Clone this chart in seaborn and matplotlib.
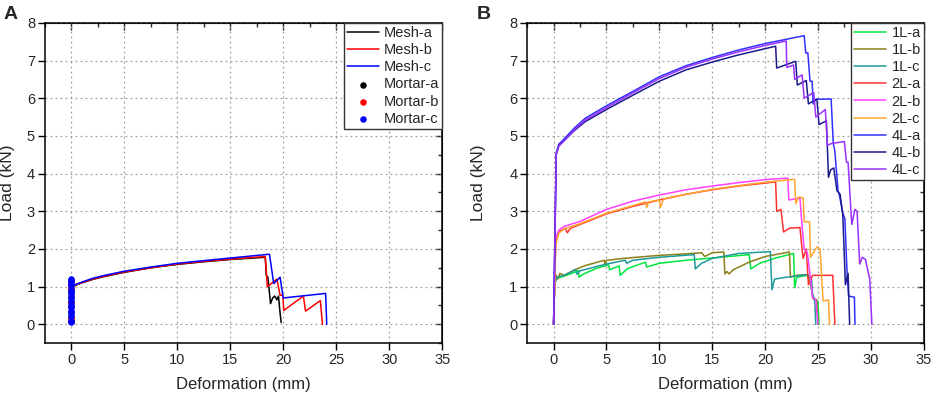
import matplotlib
matplotlib.use("Agg")
import matplotlib.pyplot as plt
from matplotlib.ticker import MultipleLocator
import seaborn as sns

# ---------------- Panel A data ----------------
mesh_a_x = [0.1, 0.15, 0.3, 0.6, 1, 2, 3, 5, 7.5, 10, 12.5, 15, 18.3, 18.4, 18.55, 18.8, 19.0, 19.2, 19.4, 19.55, 19.7, 19.8]
mesh_a_y = [0.9, 0.97, 1.02, 1.06, 1.1, 1.19, 1.26, 1.38, 1.5, 1.59, 1.66, 1.72, 1.78, 1.3, 1.25, 0.55, 0.7, 0.75, 0.65, 0.75, 0.3, 0.05]

mesh_b_x = [0.1, 0.15, 0.3, 0.6, 1, 2, 3, 5, 7.5, 10, 12.5, 15, 18.3, 18.5, 19.4, 19.7, 19.95, 20.05, 21.9, 22.1, 23.5, 23.7]
mesh_b_y = [0.92, 0.98, 1.03, 1.07, 1.11, 1.2, 1.27, 1.39, 1.5, 1.6, 1.67, 1.73, 1.8, 1.0, 1.2, 0.77, 0.78, 0.37, 0.75, 0.35, 0.63, 0.0]

mesh_c_x = [0.1, 0.15, 0.3, 0.6, 1, 2, 3, 5, 7.5, 10, 12.5, 15, 18.7, 19.1, 19.7, 20.0, 24.0, 24.1]
mesh_c_y = [0.93, 0.99, 1.04, 1.08, 1.12, 1.22, 1.29, 1.41, 1.52, 1.62, 1.69, 1.76, 1.86, 1.08, 1.25, 0.7, 0.82, 0.0]

mortar_x_a = [0, 0, 0, 0, 0, 0, 0, 0, 0, 0]
mortar_y_a = [0.08, 0.2, 0.32, 0.45, 0.6, 0.72, 0.85, 0.95, 1.05, 1.15]
mortar_x_b = [0, 0, 0, 0]
mortar_y_b = [0.14, 0.56, 0.97, 1.12]
mortar_x_c = [0] * 17
mortar_y_c = [0.05, 0.08, 0.22, 0.3, 0.36, 0.45, 0.5, 0.63, 0.7, 0.78, 0.85, 0.9, 1.05, 1.08, 1.14, 1.18, 1.21]

# ---------------- Panel B data ----------------
l1a_x = [0, 0.1, 0.3, 1, 2, 2.35, 2.4, 2.8, 4, 5.2, 5.3, 6.2, 6.3, 7, 8.7, 8.8, 10, 12.5, 15, 18.5, 18.65, 19.5, 21, 22.7, 22.8, 23.0, 24.0, 24.3, 24.6, 25.0, 25.1]
l1a_y = [0, 1.1, 1.22, 1.28, 1.38, 1.43, 1.25, 1.33, 1.48, 1.58, 1.45, 1.55, 1.3, 1.48, 1.65, 1.52, 1.62, 1.7, 1.76, 1.85, 1.47, 1.62, 1.76, 1.88, 0.97, 1.25, 1.3, 1.05, 0.65, 0.6, 0]

l1b_x = [0, 0.1, 0.2, 0.4, 0.6, 1, 2, 3, 4.8, 4.85, 5, 7, 10, 12.5, 14, 14.3, 15, 16.1, 16.2, 16.4, 16.6, 17, 18.5, 20, 22.3, 22.4, 23, 24, 24.3, 24.5, 24.9, 25.0]
l1b_y = [0, 1.0, 1.32, 1.2, 1.35, 1.3, 1.45, 1.56, 1.7, 1.6, 1.7, 1.76, 1.83, 1.87, 1.9, 1.8, 1.9, 1.92, 1.34, 1.4, 1.34, 1.45, 1.65, 1.8, 1.92, 1.25, 1.3, 1.32, 1.15, 0.7, 0.65, 0]

l1c_x = [0, 0.1, 0.3, 1, 2.1, 2.2, 2.5, 5, 6.8, 6.9, 7.5, 10, 13.3, 13.4, 14, 15, 17.5, 20.5, 20.65, 20.9, 22, 24, 24.4, 24.5, 24.7, 24.8]
l1c_y = [0, 1.05, 1.25, 1.3, 1.45, 1.33, 1.42, 1.6, 1.7, 1.62, 1.7, 1.78, 1.85, 1.47, 1.62, 1.75, 1.88, 1.93, 0.92, 1.2, 1.25, 1.32, 1.2, 0.8, 0.65, 0]

l2a_x = [0, 0.2, 0.5, 1.1, 1.3, 1.6, 2.5, 5, 7.5, 10, 12.5, 15, 17.5, 21.0, 21.1, 21.5, 21.75, 22.3, 23.3, 23.5, 23.6, 23.9, 24.1, 24.5, 26.4, 26.6]
l2a_y = [0, 2.2, 2.45, 2.55, 2.43, 2.55, 2.65, 2.93, 3.13, 3.3, 3.45, 3.57, 3.67, 3.78, 3.0, 3.05, 2.45, 2.55, 2.57, 2.0, 1.75, 2.0, 1.05, 1.3, 1.3, 0]

l2b_x = [0, 0.2, 0.5, 1, 2.5, 5, 7.5, 10, 12.5, 15, 17.5, 20, 22.15, 22.25, 23.3, 23.5, 23.7, 24.0, 24.3, 24.5, 24.8, 25.0]
l2b_y = [0, 2.3, 2.5, 2.6, 2.73, 3.05, 3.27, 3.43, 3.57, 3.67, 3.76, 3.84, 3.88, 3.3, 3.35, 2.6, 2.0, 1.9, 1.2, 0.7, 0.65, 0]

l2c_x = [0, 0.2, 0.5, 1, 2.5, 5, 7.5, 8.7, 8.8, 9.0, 10.0, 10.1, 10.4, 12.5, 15, 17.5, 20, 22.8, 22.9, 23.2, 23.6, 23.7, 24.2, 24.3, 24.9, 25.2, 25.4, 25.5, 26.0, 26.1]
l2c_y = [0, 2.1, 2.42, 2.53, 2.67, 2.95, 3.15, 3.25, 3.1, 3.25, 3.3, 3.1, 3.33, 3.45, 3.58, 3.68, 3.77, 3.85, 3.2, 3.38, 3.35, 2.72, 2.72, 1.78, 2.05, 2.0, 1.0, 0.62, 0.65, 0]

l4a_x = [0, 0.25, 0.5, 1, 2, 3, 5, 7.5, 10, 12.5, 15, 17.5, 20, 23.7, 23.85, 24.05, 24.25, 24.45, 24.55, 24.8, 26.25, 26.45, 26.6, 26.9, 27.05, 27.35, 27.55, 27.75, 27.9, 28.45, 28.5]
l4a_y = [0, 4.55, 4.78, 4.92, 5.22, 5.47, 5.8, 6.18, 6.57, 6.86, 7.08, 7.28, 7.45, 7.66, 7.2, 7.2, 6.45, 6.45, 5.85, 5.97, 5.98, 4.8, 4.6, 3.55, 3.4, 2.95, 2.8, 1.4, 0.75, 0.72, 0]

l4b_x = [0, 0.25, 0.5, 1, 2, 3, 5, 7.5, 10, 12.5, 15, 17.5, 21.0, 21.1, 22.9, 23.05, 23.9, 24.1, 24.9, 25.1, 25.8, 26.0, 26.2, 26.5, 26.8, 27.1, 27.35, 27.6, 27.85, 28.0]
l4b_y = [0, 4.5, 4.75, 4.88, 5.15, 5.38, 5.7, 6.08, 6.45, 6.75, 6.96, 7.15, 7.38, 6.8, 6.98, 6.35, 6.47, 5.85, 5.98, 5.3, 5.4, 3.9, 4.1, 4.15, 3.55, 3.45, 2.9, 1.05, 1.35, 0]

l4c_x = [0, 0.25, 0.5, 1, 2, 3, 5, 7.5, 10, 12.5, 15, 17.5, 20, 22.0, 22.05, 22.7, 22.8, 23.5, 23.7, 24.6, 24.8, 25.7, 25.9, 26.3, 27.5, 27.7, 27.85, 28.2, 28.5, 28.7, 28.95, 29.2, 29.5, 29.7, 29.9, 30.1]
l4c_y = [0, 4.5, 4.73, 4.87, 5.17, 5.42, 5.75, 6.14, 6.52, 6.82, 7.04, 7.23, 7.4, 7.52, 6.82, 6.88, 6.5, 6.62, 6.0, 6.15, 5.5, 5.7, 4.75, 4.8, 4.85, 4.3, 4.3, 2.65, 3.05, 3.0, 1.6, 1.78, 1.72, 1.45, 1.2, 0]

x_ticks = [0, 5, 10, 15, 20, 25, 30, 35]
y_ticks = [0, 1, 2, 3, 4, 5, 6, 7, 8]

sns.set_style("white")
plt.rcParams["font.family"] = ["Liberation Sans", "DejaVu Sans"]

fig = plt.figure(figsize=(9.33, 3.94), dpi=100)
ax1 = fig.add_axes([0.048, 0.129, 0.426, 0.813])
ax2 = fig.add_axes([0.565, 0.129, 0.425, 0.813])

lw = 1.1
for xs, ys, c, name in [
    (mesh_a_x, mesh_a_y, "black", "Mesh-a"),
    (mesh_b_x, mesh_b_y, "#ff0000", "Mesh-b"),
    (mesh_c_x, mesh_c_y, "#0000ff", "Mesh-c"),
]:
    sns.lineplot(x=xs, y=ys, sort=False, estimator=None, color=c, lw=lw, label=name, ax=ax1)

mortar = [
    (mortar_x_a, mortar_y_a, "black", "Mortar-a", 3),
    (mortar_x_b, mortar_y_b, "#ff0000", "Mortar-b", 4),
    (mortar_x_c, mortar_y_c, "#0000ff", "Mortar-c", 5),
]
for xs, ys, c, name, z in mortar:
    sns.scatterplot(x=xs, y=ys, color=c, s=22, linewidth=0, label=name, ax=ax1, zorder=z)

series_b = [
    (l1a_x, l1a_y, "#00e640", "1L-a"),
    (l1b_x, l1b_y, "#8a7f1a", "1L-b"),
    (l1c_x, l1c_y, "#1f9a9a", "1L-c"),
    (l2a_x, l2a_y, "#ff3030", "2L-a"),
    (l2b_x, l2b_y, "#ff40ff", "2L-b"),
    (l2c_x, l2c_y, "#ffa530", "2L-c"),
    (l4a_x, l4a_y, "#3030ff", "4L-a"),
    (l4b_x, l4b_y, "#1a1a8c", "4L-b"),
    (l4c_x, l4c_y, "#9930ff", "4L-c"),
]
for xs, ys, c, name in series_b:
    sns.lineplot(x=xs, y=ys, sort=False, estimator=None, color=c, lw=lw, label=name, ax=ax2)

for ax in (ax1, ax2):
    ax.set_xlim(-2.5, 35)
    ax.set_ylim(-0.5, 8)
    ax.set_xticks(x_ticks)
    ax.set_yticks(y_ticks)
    ax.xaxis.set_minor_locator(MultipleLocator(2.5))
    ax.yaxis.set_minor_locator(MultipleLocator(0.5))
    ax.grid(True, which="major", ls=(0, (1.5, 2.5)), color="#a0a0a0", lw=0.9)
    ax.tick_params(which="major", direction="out", length=5, width=1, labelsize=10.5, pad=2, color="black")
    ax.tick_params(which="minor", direction="out", length=3, width=1, color="black")
    ax.tick_params(left=True, bottom=True)
    for sp in ax.spines.values():
        sp.set_color("black")
        sp.set_linewidth(1.1)
    sec_x = ax.secondary_xaxis("top")
    sec_x.set_xticks(x_ticks)
    sec_x.xaxis.set_minor_locator(MultipleLocator(2.5))
    sec_x.tick_params(which="major", direction="in", length=5, width=1, labeltop=False)
    sec_x.tick_params(which="minor", direction="in", length=3, width=1)
    sec_y = ax.secondary_yaxis("right")
    sec_y.set_yticks(y_ticks)
    sec_y.yaxis.set_minor_locator(MultipleLocator(0.5))
    sec_y.tick_params(which="major", direction="in", length=5, width=1, labelright=False)
    sec_y.tick_params(which="minor", direction="in", length=3, width=1)
    ax.set_xlabel("Deformation (mm)", fontsize=12)
    ax.set_ylabel("Load (kN)", fontsize=12.5)
    ax.xaxis.set_label_coords(0.5, -0.105)
    ax.xaxis.label.set_va("top")

ax1.yaxis.set_label_coords(-0.076, 0.5)
ax2.yaxis.set_label_coords(-0.103, 0.5)

for ax in (ax1, ax2):
    leg = ax.legend(loc="upper right", borderaxespad=0, fancybox=False, framealpha=1,
                    edgecolor="#333333", fontsize=10.5, handlelength=2.2, labelspacing=0.22,
                    handletextpad=0.35, borderpad=0.2, scatterpoints=1)
    leg.get_frame().set_linewidth(1.0)

fig.text(0.004, 0.985, "A", fontsize=14, fontweight="bold", va="top", ha="left")
fig.text(0.511, 0.985, "B", fontsize=14, fontweight="bold", va="top", ha="left")

fig.savefig("out.png", dpi=100)
